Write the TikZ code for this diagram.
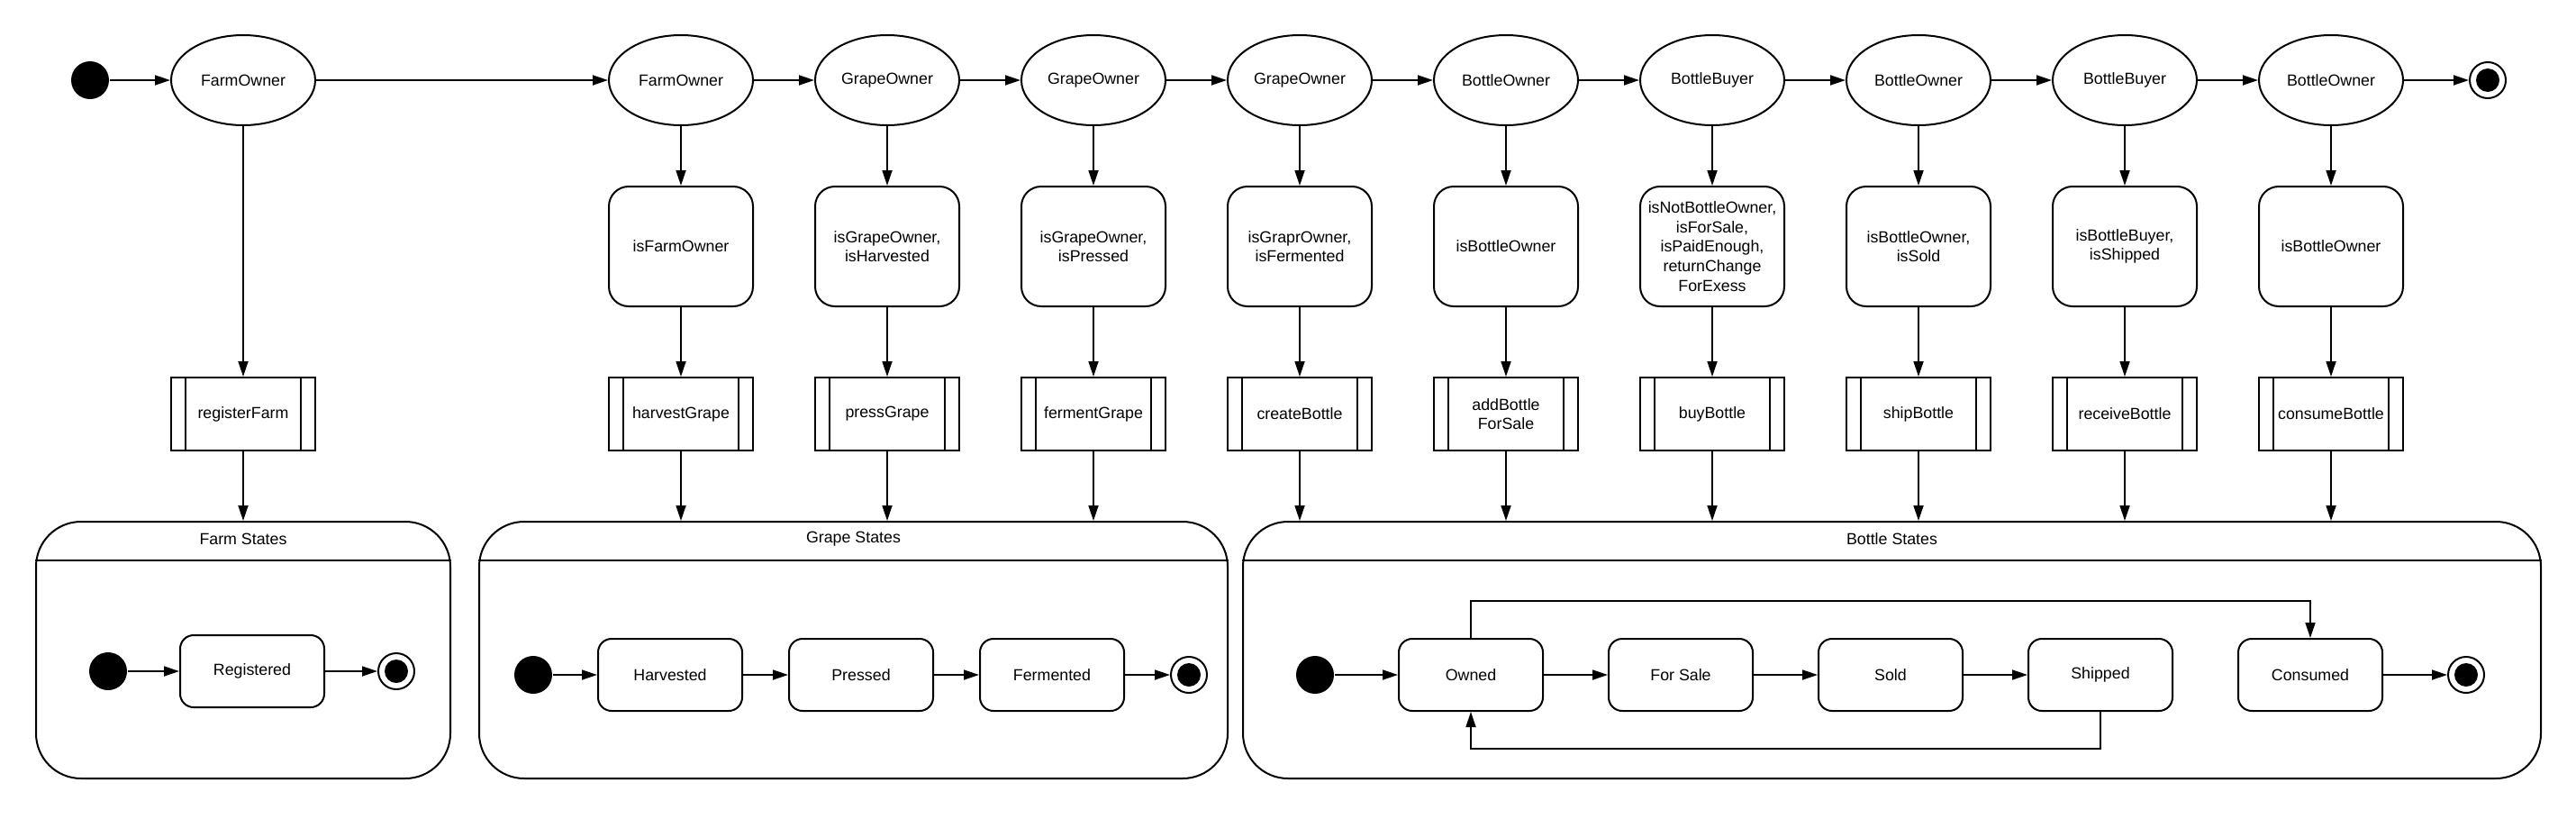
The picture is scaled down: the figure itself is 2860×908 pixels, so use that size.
\documentclass[tikz,border=0pt]{standalone}
\usepackage{fontspec}
\setmainfont{Liberation Sans}
\usetikzlibrary{shapes.geometric,arrows.meta}
\begin{document}
\begin{tikzpicture}[x=1pt,y=-1pt,line width=2pt,
  every node/.style={font=\fontsize{17.8}{21.6}\selectfont},
  arr/.style={-{Triangle[length=17pt,width=11pt]},line width=1.8pt},
  role/.style={ellipse,draw,line width=2pt,minimum width=160pt,minimum height=100pt,inner sep=0pt},
  guard/.style={rectangle,draw,rounded corners=22pt,minimum width=160pt,minimum height=133pt,inner sep=0pt,align=center},
  proc/.style={rectangle,draw,minimum width=160pt,minimum height=81pt,inner sep=0pt,align=center,
    path picture={\draw[line width=2pt] ([xshift=16pt]path picture bounding box.north west) -- ([xshift=16pt]path picture bounding box.south west);
                  \draw[line width=2pt] ([xshift=-16pt]path picture bounding box.north east) -- ([xshift=-16pt]path picture bounding box.south east);}},
  sub/.style={rectangle,draw,rounded corners=15pt,minimum width=160pt,minimum height=80pt,inner sep=0pt},
  initdot/.style={circle,fill=black,minimum size=42pt,inner sep=0pt},
  finaldot/.style={circle,draw,line width=2pt,minimum size=40pt,inner sep=0pt,
    path picture={\fill (path picture bounding box.center) circle (13pt);}},
  container/.style={rectangle,draw,rounded corners=50pt,minimum height=285pt,inner sep=0pt}
]
\useasboundingbox (0,0) rectangle (2860,908);

% ---------- top row ----------
\node[initdot] (i0) at (100,89) {};
\node[role] (r0) at (270,89) {FarmOwner};
\node[role] (r1) at (756,89) {FarmOwner};
\node[role] (r2) at (985,89) {GrapeOwner};
\node[role] (r3) at (1214,89) {GrapeOwner};
\node[role] (r4) at (1443,89) {GrapeOwner};
\node[role] (r5) at (1672,89) {BottleOwner};
\node[role] (r6) at (1901,89) {BottleBuyer};
\node[role] (r7) at (2130,89) {BottleOwner};
\node[role] (r8) at (2359,89) {BottleBuyer};
\node[role] (r9) at (2588,89) {BottleOwner};
\node[finaldot] (f0) at (2762,89) {};

\draw[arr] (i0) -- (r0);
\draw[arr] (r0) -- (r1);
\draw[arr] (r1) -- (r2);
\draw[arr] (r2) -- (r3);
\draw[arr] (r3) -- (r4);
\draw[arr] (r4) -- (r5);
\draw[arr] (r5) -- (r6);
\draw[arr] (r6) -- (r7);
\draw[arr] (r7) -- (r8);
\draw[arr] (r8) -- (r9);
\draw[arr] (r9) -- (f0);

% ---------- guards ----------
\node[guard] (g1) at (756,273.5) {isFarmOwner};
\node[guard] (g2) at (985,273.5) {isGrapeOwner,\\isHarvested};
\node[guard] (g3) at (1214,273.5) {isGrapeOwner,\\isPressed};
\node[guard] (g4) at (1443,273.5) {isGraprOwner,\\isFermented};
\node[guard] (g5) at (1672,273.5) {isBottleOwner};
\node[guard] (g6) at (1901,273.5) {isNotBottleOwner,\\isForSale,\\isPaidEnough,\\returnChange\\ForExess};
\node[guard] (g7) at (2130,273.5) {isBottleOwner,\\isSold};
\node[guard] (g8) at (2359,273.5) {isBottleBuyer,\\isShipped};
\node[guard] (g9) at (2588,273.5) {isBottleOwner};

% ---------- processes ----------
\node[proc] (p0) at (270,459.5) {registerFarm};
\node[proc] (p1) at (756,459.5) {harvestGrape};
\node[proc] (p2) at (985,459.5) {pressGrape};
\node[proc] (p3) at (1214,459.5) {fermentGrape};
\node[proc] (p4) at (1443,459.5) {createBottle};
\node[proc] (p5) at (1672,459.5) {addBottle\\ForSale};
\node[proc] (p6) at (1901,459.5) {buyBottle};
\node[proc] (p7) at (2130,459.5) {shipBottle};
\node[proc] (p8) at (2359,459.5) {receiveBottle};
\node[proc] (p9) at (2588,459.5) {consumeBottle};

\draw[arr] (r0) -- (p0);
\foreach \k in {1,...,9}{
  \draw[arr] (r\k) -- (g\k);
  \draw[arr] (g\k) -- (p\k);
}

% ---------- containers ----------
\node[container,minimum width=460pt] (farm) at (270,721.5) {};
\node[container,minimum width=831pt] (grape) at (947.5,721.5) {};
\node[container,minimum width=1441pt] (bottle) at (2100.5,721.5) {};
\foreach \c in {farm,grape,bottle}{
  \draw (\c.west |- 0,622) -- (\c.east |- 0,622);
}
\node (farmT) at ([yshift=-20pt]farm.north) {Farm States};
\node (grapeT) at ([yshift=-20pt]grape.north) {Grape States};
\node (bottleT) at ([yshift=-20pt]bottle.north) {Bottle States};

\draw[arr] (p0) -- (p0 |- farm.north);
\draw[arr] (p1) -- (p1 |- grape.north);
\draw[arr] (p2) -- (p2 |- grape.north);
\draw[arr] (p3) -- (p3 |- grape.north);
\foreach \k in {4,...,9}{
  \draw[arr] (p\k) -- (p\k |- bottle.north);
}

% ---------- farm states ----------
\node[initdot] (fi) at (120,745) {};
\node[sub] (registered) at (280,745) {Registered};
\node[finaldot] (ff) at (440,745) {};
\draw[arr] (fi) -- (registered);
\draw[arr] (registered) -- (ff);

% ---------- grape states ----------
\node[initdot] (gi) at (592,749) {};
\node[sub] (harvested) at (744,749) {Harvested};
\node[sub] (pressed) at (956,749) {Pressed};
\node[sub] (fermented) at (1168,749) {Fermented};
\node[finaldot] (gf) at (1320,749) {};
\draw[arr] (gi) -- (harvested);
\draw[arr] (harvested) -- (pressed);
\draw[arr] (pressed) -- (fermented);
\draw[arr] (fermented) -- (gf);

% ---------- bottle states ----------
\node[initdot] (bi) at (1460,749) {};
\node[sub] (owned) at (1633,749) {Owned};
\node[sub] (forsale) at (1866,749) {For Sale};
\node[sub] (sold) at (2099,749) {Sold};
\node[sub] (shipped) at (2332,749) {Shipped};
\node[sub] (consumed) at (2565,749) {Consumed};
\node[finaldot] (bf) at (2738,749) {};
\draw[arr] (bi) -- (owned);
\draw[arr] (owned) -- (forsale);
\draw[arr] (forsale) -- (sold);
\draw[arr] (sold) -- (shipped);
\draw[arr] (consumed) -- (bf);
\draw[arr] (owned.north) -- ++(0,-41) -| (consumed.north);
\draw[arr] (shipped.south) -- ++(0,41) -| (owned.south);
\end{tikzpicture}
\end{document}
